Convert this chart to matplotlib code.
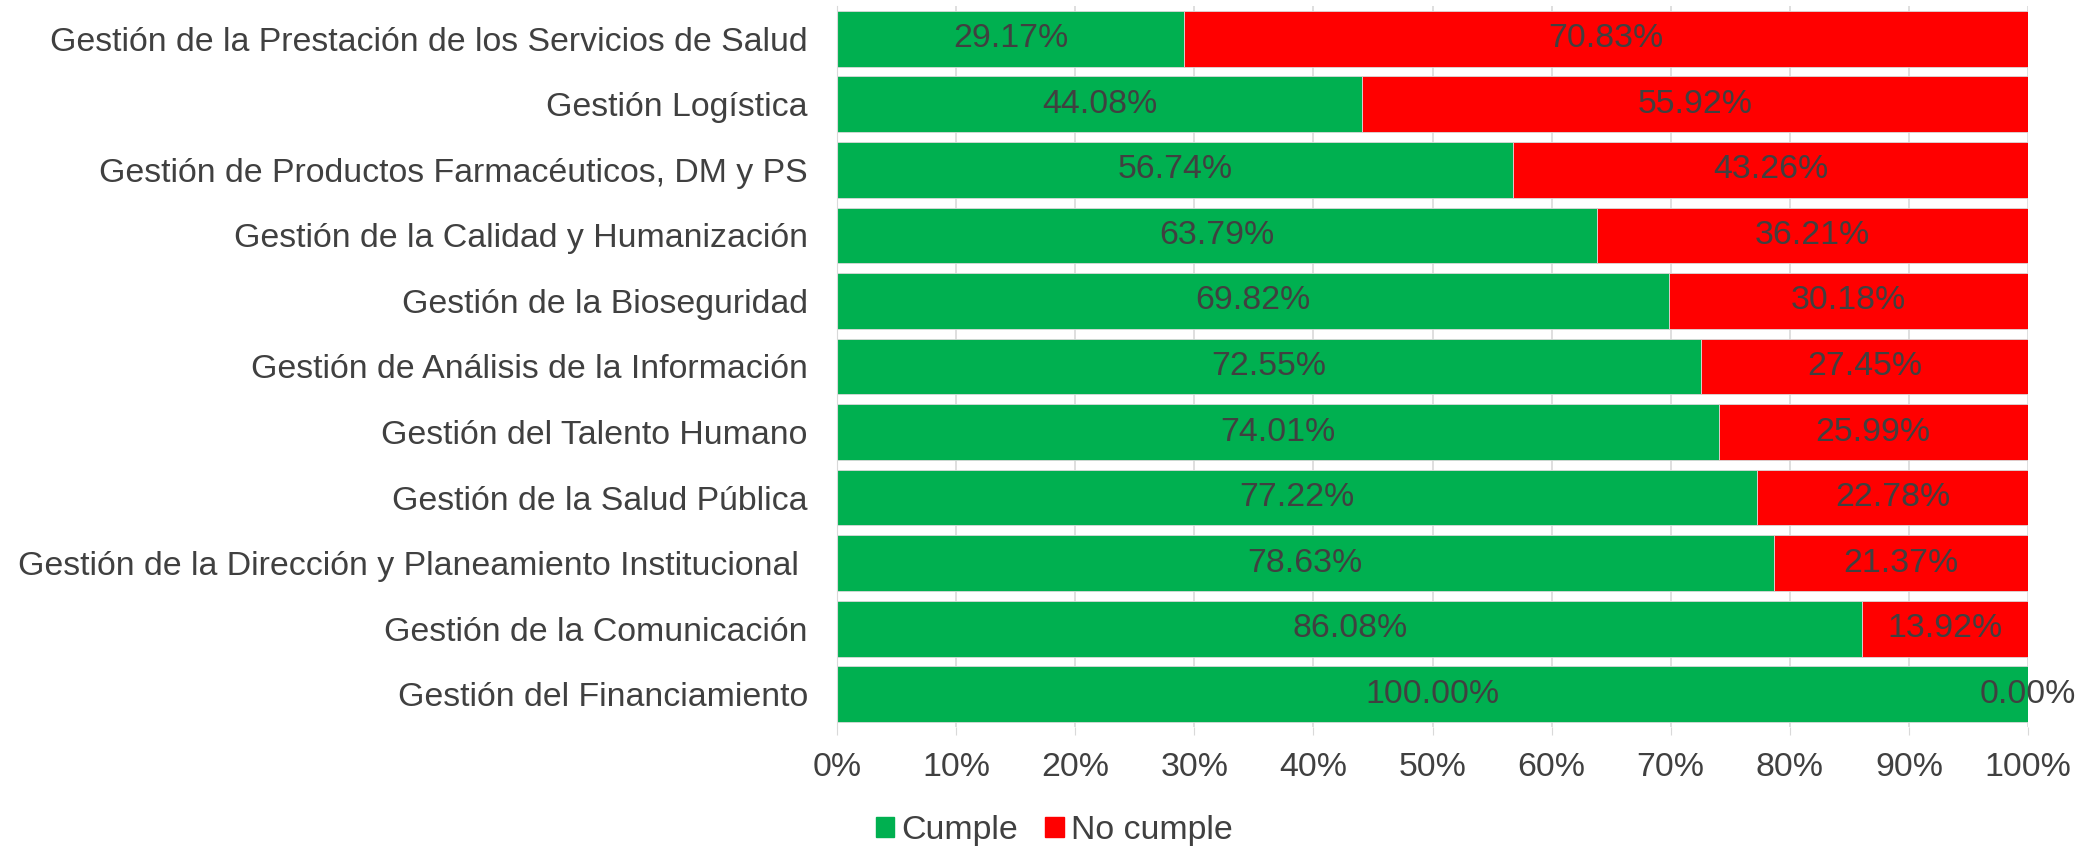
import numpy as np
import matplotlib.pyplot as plt
from matplotlib.patches import Patch

categorias = [
    "Gestión de la Prestación de los Servicios de Salud",
    "Gestión Logística",
    "Gestión de Productos Farmacéuticos, DM y PS",
    "Gestión de la Calidad y Humanización",
    "Gestión de la Bioseguridad",
    "Gestión de Análisis de la Información",
    "Gestión del Talento Humano",
    "Gestión de la Salud Pública",
    "Gestión de la Dirección y Planeamiento Institucional ",
    "Gestión de la Comunicación",
    "Gestión del Financiamiento",
]
cumple = [29.17, 44.08, 56.74, 63.79, 69.82, 72.55, 74.01, 77.22, 78.63, 86.08, 100.00]
no_cumple = [70.83, 55.92, 43.26, 36.21, 30.18, 27.45, 25.99, 22.78, 21.37, 13.92, 0.00]

verde = "#00B050"
rojo = "#FF0000"
gris_texto = "#404040"

plt.rcParams['font.family'] = ['Liberation Sans', 'DejaVu Sans']

fig = plt.figure(figsize=(20.79, 8.46), dpi=100)
ax = fig.add_axes([0.4026, 0.1407, 0.5729, 0.8522])

y = np.arange(len(categorias))
cumple = np.array(cumple)
no_cumple = np.array(no_cumple)

ax.barh(y, cumple, height=0.85, color=verde, edgecolor="#d9d9d9", linewidth=0.6, zorder=2)
ax.barh(y, no_cumple, left=cumple, height=0.85, color=rojo, edgecolor="#d9d9d9", linewidth=0.6, zorder=2)

fs = 24.4
for i in range(len(categorias)):
    ax.text(cumple[i] / 2, y[i], f"{cumple[i]:.2f}%", ha="center", va="center",
            color=gris_texto, fontsize=fs, zorder=3)
    ax.text(cumple[i] + no_cumple[i] / 2, y[i], f"{no_cumple[i]:.2f}%", ha="center", va="center",
            color=gris_texto, fontsize=fs, zorder=3, clip_on=False)

ax.set_xlim(0, 100)
ax.set_ylim(len(categorias) - 0.5, -0.5)
ax.set_yticks(y)
ax.set_yticklabels(categorias, fontsize=fs, color=gris_texto)
ax.set_xticks(np.arange(0, 101, 10))
ax.set_xticklabels([f"{v}%" for v in range(0, 101, 10)], fontsize=fs, color=gris_texto)
ax.tick_params(axis="y", length=0, pad=21)
ax.tick_params(axis="x", length=6, color="#d9d9d9", pad=12)
ax.grid(axis="x", color="#d9d9d9", linewidth=1.2, zorder=0)
for s in ["top", "right", "bottom"]:
    ax.spines[s].set_visible(False)
ax.spines["left"].set_color("#d9d9d9")

handles = [Patch(color=verde, label="Cumple"), Patch(color=rojo, label="No cumple")]
fig.legend(handles=handles, loc="center", bbox_to_anchor=(0.507, 0.018), ncol=2, frameon=False,
           fontsize=fs, handlelength=0.55, handleheight=0.55, handletextpad=0.2, columnspacing=0.8,
           labelcolor=gris_texto)

fig.savefig("out.png", dpi=100)
